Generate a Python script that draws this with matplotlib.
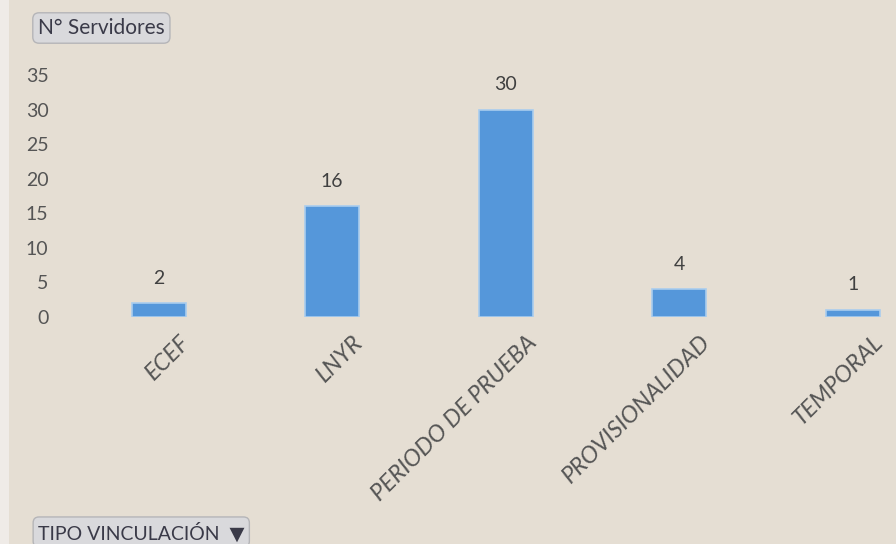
import matplotlib
matplotlib.use("Agg")
import matplotlib.pyplot as plt
import matplotlib.transforms as mtransforms
from matplotlib.patches import Rectangle

# Datos
categorias = ["ECEF", "LNYR", "PERIODO DE PRUEBA", "PROVISIONALIDAD", "TEMPORAL"]
servidores = [2, 16, 30, 4, 1]
y_ticks = [0, 5, 10, 15, 20, 25, 30, 35]

plt.rcParams['font.family'] = ['Lato', 'DejaVu Sans']
BG = '#e5ded3'
BAR = '#5597da'
TXT = '#404040'

fig = plt.figure(figsize=(8.96, 5.44), dpi=100, facecolor=BG)
# franja clara a la izquierda
fig.patches.append(Rectangle((0, 0), 9 / 896, 1, transform=fig.transFigure,
                             facecolor='#efebe7', edgecolor='none', zorder=0))

ax = fig.add_axes([72 / 896, 227 / 544, 824 / 896, 242 / 544])
ax.set_facecolor('none')

x = range(len(categorias))
bars = ax.bar(x, servidores, width=0.31, color=BAR, edgecolor='#a9cdee',
              linewidth=1.2, zorder=3)

for bar, v in zip(bars, servidores):
    ax.annotate(f'{v}', (bar.get_x() + bar.get_width() / 2, bar.get_height()),
                xytext=(0, 12), textcoords='offset points', ha='center',
                va='bottom', fontsize=14, color=TXT)

ax.set_xlim(-0.5, 4.25)
ax.set_ylim(0, 35)
ax.set_yticks(y_ticks)
ax.tick_params(axis='y', length=0, pad=17, labelsize=14, labelcolor='#555555')
ax.tick_params(axis='x', length=0, pad=4)
ax.set_xticks(list(x))
ax.set_xticklabels(categorias, rotation=45, ha='right', rotation_mode='anchor',
                   fontsize=17, color='#555555', fontstyle='italic')
offset = mtransforms.ScaledTranslation(20 / 100, -9 / 100, fig.dpi_scale_trans)
for lbl in ax.get_xticklabels():
    lbl.set_transform(lbl.get_transform() + offset)

for s in ax.spines.values():
    s.set_visible(False)

# botones de campo de tabla dinámica
btn = dict(boxstyle='round,pad=0.25,rounding_size=0.3', facecolor='#d9d9dc',
           edgecolor='#b5b5b8', linewidth=1)
fig.text(38 / 896, 1 - 28 / 544, 'N° Servidores', fontsize=15, color='#3a3a48',
         va='center', ha='left', bbox=btn)
fig.text(38 / 896, 1 - 532 / 544, 'TIPO VINCULACIÓN  ▼', fontsize=14,
         color='#3a3a48', va='center', ha='left', bbox=btn)

fig.savefig('out.png', dpi=100, facecolor=BG)
